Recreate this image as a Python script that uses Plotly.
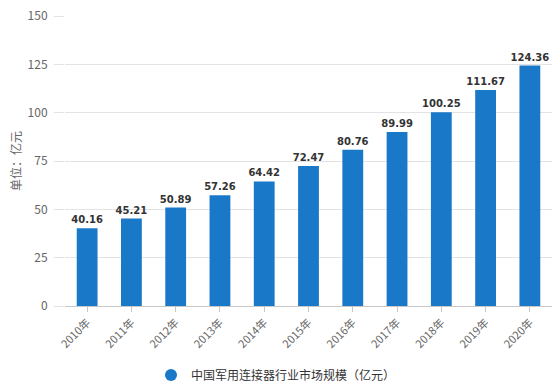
import plotly.graph_objects as go

years = ["2010年", "2011年", "2012年", "2013年", "2014年", "2015年",
         "2016年", "2017年", "2018年", "2019年", "2020年"]
values = [40.16, 45.21, 50.89, 57.26, 64.42, 72.47, 80.76, 89.99, 100.25, 111.67, 124.36]
y_ticks = [0, 25, 50, 75, 100, 125, 150]
series_name = "中国军用连接器行业市场规模（亿元）"
y_title = "单位：亿元"
bar_color = "#1a78c8"

fig = go.Figure()
fig.add_trace(go.Bar(
    x=years, y=values, name=series_name,
    marker=dict(color=bar_color, line=dict(width=0)),
    text=[f"{v:.2f}" for v in values],
    textposition="outside",
    constraintext="none",
    textfont=dict(family="DejaVu Sans", size=10, color="#333333", weight="bold"),
    cliponaxis=False,
    showlegend=False,
))
# legend entry with a round marker
fig.add_trace(go.Scatter(
    x=[None], y=[None], mode="markers", name=series_name,
    marker=dict(symbol="circle", size=10, color=bar_color),
    showlegend=True,
))

fig.update_layout(
    width=552, height=383,
    margin=dict(l=65, r=0, t=16, b=77),
    paper_bgcolor="white", plot_bgcolor="white",
    font=dict(family="Noto Sans CJK SC", color="#666666", size=12),
    bargap=0.53,
    showlegend=True,
    legend=dict(orientation="h", xref="container", yref="container",
                x=0.5, xanchor="center", y=0.021, yanchor="middle",
                font=dict(size=12, color="#333333"), itemsizing="constant"),
    xaxis=dict(
        type="category", tickangle=-45, tickfont=dict(size=11, color="#666666"),
        showline=True, linecolor="#c8c8c8", linewidth=1,
        ticks="outside", ticklen=5, tickcolor="#c8c8c8",
        showgrid=False, automargin=False, ticklabeloverflow="allow",
    ),
    yaxis=dict(
        range=[0, 150], tickvals=y_ticks, showgrid=True, gridcolor="#e3e3e3",
        zeroline=False, ticks="outside", ticklen=10, tickcolor="#e3e3e3",
        tickfont=dict(size=12, color="#666666"), automargin=False,
        ticklabeloverflow="allow", ticklabelstandoff=4,
        title=dict(text=y_title, font=dict(size=12, color="#666666"), standoff=3),
    ),
)

# remove the default 8px page margin so the figure sits at the window's corner
fig.write_html("out.html", config={"displayModeBar": False},
               post_script="document.body.style.margin='0';")
